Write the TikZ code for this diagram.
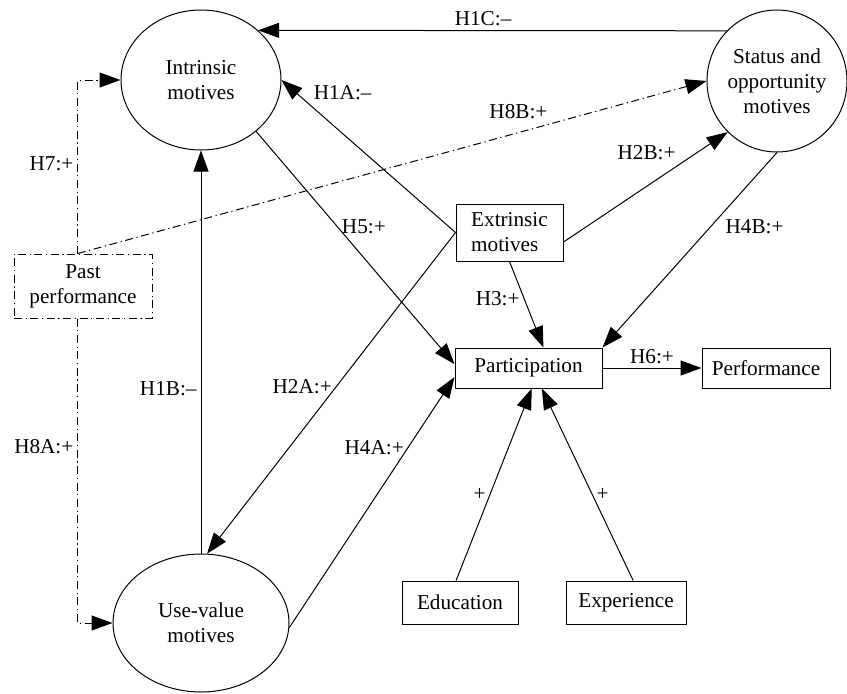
\documentclass[tikz,border=0pt]{standalone}
\usepackage{fontspec}
\setmainfont{Liberation Serif}
\usetikzlibrary{arrows.meta,positioning,shapes.geometric}

\begin{document}
\begin{tikzpicture}[
    x=0.5pt, y=0.5pt,
    > = {Triangle[length=10.5pt,width=7.5pt]},
    line width=0.5pt,
    font=\fontsize{10.6}{12.5}\selectfont,
    motive/.style={ellipse, draw, align=center, inner sep=0pt},
    factor/.style={rectangle, draw, align=center, inner sep=0pt},
    dashdot/.style={dash pattern=on 4pt off 1.8pt on 0.6pt off 1.8pt},
    hyp/.style={inner sep=2pt}
]
\useasboundingbox (0,0) rectangle (847,693);

% Motives
\node[motive, minimum width=80pt, minimum height=70pt] (intr) at (201,613) {Intrinsic\\motives};
\node[motive, minimum width=70pt, minimum height=71pt] (stat) at (777,612) {Status and\\opportunity\\motives};
\node[motive, minimum width=88pt, minimum height=69pt] (use) at (201,70) {Use-value\\motives};
\node[factor, align=left, minimum width=53.5pt, minimum height=28.5pt] (ext) at (509.5,460.5) {Extrinsic\\motives};

% Outcomes and controls
\node[factor, minimum width=73.5pt, minimum height=20pt] (part) at (528.5,325) {Participation};
\node[factor, minimum width=64pt, minimum height=20pt] (perf) [right=49.5pt of part] {Performance};
\node[factor, minimum width=58pt, minimum height=21.5pt] (edu) at (460,90.5) {Education};
\node[factor, minimum width=60pt, minimum height=21.5pt] (exp) [right=23.5pt of edu] {Experience};
\node[factor, dashdot, minimum width=69pt, minimum height=32pt] (past) at (83,407) {Past\\performance};

% Hypotheses
\path[->]
    (stat.135) edge node [pos=0.52, above, hyp] {H1C:–} (intr.41)
    (ext.west) edge node [pos=0.84, above right, hyp] {H1A:–} (intr.east)
    (ext.west) edge node [pos=0.48, left, hyp] {H2A:+} (use.85)
    (ext.-10) edge node [pos=0.71, above left, hyp] {H2B:+} (stat.226)
    (ext.south) edge node [pos=0.43, left, hyp] {H3:+} (part.54)
    (intr.-43) edge node [pos=0.41, right, hyp] {H5:+} (part.177)
    (stat.south) edge node [pos=0.32, below right, hyp] {H4B:+} (part.north east)
    (use.-3) edge node [pos=0.72, left, hyp] {H4A:+} (part.187)
    (use.north) edge node [pos=0.41, left, hyp] {H1B:–} (intr.south)
    (part.east) edge node [pos=0.5, above, hyp] {H6:+} (perf.west)
    (edu.100) edge node [pos=0.45, left, hyp] {+} (part.-81)
    (exp.72) edge node [pos=0.45, right, hyp] {+} (part.-57);

% Past performance
\path[->, dashdot]
    (past.99) edge node [pos=0.754, above left, hyp] {H8B:+} (stat.west);
\draw[->, dashdot] (past.99) |- node [pos=0.26, left, hyp] {H7:+} (intr.west);
\draw[->, dashdot] (past.-99) |- node [pos=0.21, left, hyp] {H8A:+} (use.west);

\end{tikzpicture}
\end{document}
